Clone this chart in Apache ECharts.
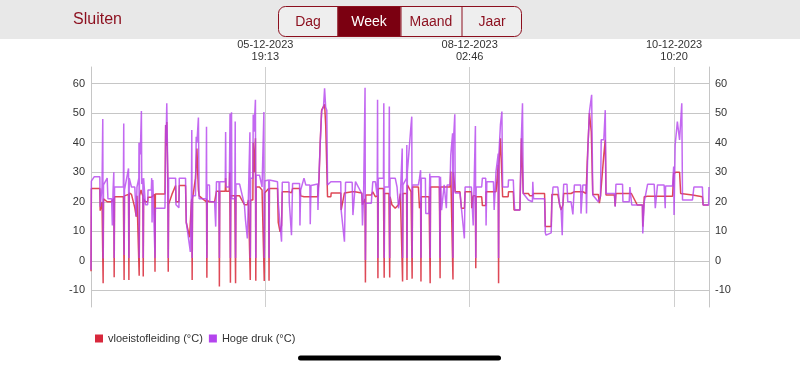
<!DOCTYPE html>
<html><head><meta charset="utf-8">
<script src="https://cdn.jsdelivr.net/npm/echarts@6/dist/echarts.min.js"></script>
<style>html,body{margin:0;padding:0;background:#fff}#c{width:800px;height:369px}</style>
</head><body><div id="c"></div>
<script>
const startTime = '2023-12-03T19:50:00';
const spanHours = 168;
const gridLineTimes = ['2023-12-05T19:13:00', '2023-12-08T02:46:00', '2023-12-10T10:20:00'];
const seriesNames = ['vloeistofleiding (°C)', 'Hoge druk (°C)'];
const segmentLabels = ['Dag', 'Week', 'Maand', 'Jaar'];
const closeLabel = 'Sluiten';

// hours since startTime
const hours = [
0,0.1,0.9,2.4,2.5,2.9,3,3.2,3.3,3.4,
4.4,4.6,5.6,5.8,6,6.2,6.3,6.4,8.8,8.9,
9,9.1,10.2,10.3,10.4,11,11.9,12.3,12.5,13,
13.05,13.1,13.2,13.4,13.6,13.7,13.8,14.1,14.2,14.3,
14.7,14.8,15.4,15.5,16.4,16.5,16.6,16.8,17.3,17.4,
17.5,20.1,20.2,20.3,20.4,20.6,20.7,20.9,21,21.1,
22,23,23.1,23.9,24,25.7,25.9,26.8,27,27.3,
27.4,27.5,27.6,28.4,28.6,28.8,29,29.2,29.4,31.3,
31.4,31.5,31.6,32.2,32.3,33.6,33.9,34.1,34.8,34.9,
35,36.5,36.6,36.7,37.6,37.7,37.8,37.9,38,38.2,
38.3,39.1,39.2,39.3,39.4,40.4,41.7,42,42.5,42.8,
43.1,43.2,43.3,43.4,44,44.1,44.3,44.7,44.8,44.9,
45.8,46.5,46.9,47,47.1,47.2,48.3,48.4,48.5,48.9,
50.7,50.9,51.4,51.8,52,53.8,53.9,54.5,54.8,56.7,
56.8,57,57.9,58.4,59.5,59.6,59.8,60.2,61.6,61.7,
62,62.3,62.7,63.2,63.5,63.8,64.1,64.3,65.2,65.3,
67.9,68,68.3,68.9,69.2,71,71.2,71.7,71.9,73.6,
73.8,74.1,74.5,74.6,74.7,76.2,76.6,77.3,77.8,77.9,
78,78.1,79.5,79.6,79.7,79.8,81,81.1,81.2,81.3,
81.8,82.7,83.2,83.6,84.1,84.6,84.7,84.8,85.8,85.85,
85.9,86,86.4,87,87.2,87.3,87.4,89,89.3,89.6,
89.7,89.8,90.9,91,91.9,92.1,92.2,92.3,94.7,94.8,
94.9,95,95.3,96,96.6,96.8,97.6,97.8,98.3,98.4,
98.5,98.9,99,100.3,100.7,101.5,101.7,103.4,103.5,103.9,
104.5,104.6,104.7,106.2,106.4,107.3,107.4,107.6,109.4,109.6,
110.1,110.7,110.8,110.9,111.3,111.7,111.9,113.4,113.5,114.8,
115,115.2,116.6,117,117.3,117.5,118.9,119.3,120,120.1,
120.3,123.3,123.5,123.7,125.1,125.3,125.6,126.9,127.4,127.8,
128.1,128.3,128.5,129.4,129.6,130.5,131,131.4,133.1,133.2,
133.7,134.6,134.7,134.9,135.1,135.5,136,136.1,136.4,137.9,
138.2,138.5,138.7,139.4,139.8,140,142.3,142.5,142.7,144.5,
144.6,146.3,146.5,146.9,147,148.5,149.9,150,150.2,150.4,
151.3,153.1,153.4,154,155.8,156.1,156.2,158.1,158.4,158.5,
158.8,159,159.4,160,160.3,160.6,160.8,163.5,163.9,166.2,
166.4,167.9,168
];

const vloeistofleiding = [
-3.5,24.5,24.5,24.5,17,17.5,20,20,-7.6,21,
20,19.5,20,20,20.5,21,-5.5,21.7,21.7,22,
-6.5,22,22.5,-6.5,23,22.5,18,15,22,22,
22,-5,22,22,24,24,23,22,-5.3,21,
21,20,20,21.5,21.5,21,21,21,22.5,-3.7,
22.6,22.6,22.6,46,39,47,47,25,-3.7,19.2,
22.5,25.5,20,20,25.5,25.5,13,8,13,20,
21,-6.5,21,28,28,38,30,24,22,20,
21,-5.7,20.5,20,20,20,20,23.6,23.6,-8.7,
23.6,23.6,28,23.6,23.6,30,30,-7.4,22,22,
22,22,22,-7.6,22,22,19,19,19,20.6,
20.6,20.6,-6.5,20.6,20.6,40,30,41.5,-6.7,25,
25,24,24,24,-6.8,23,24.5,-6.7,24.5,24.5,
24.5,13,9.8,12,23.4,23.4,23.4,23,24.5,24.5,
24.5,22,21.7,21.7,21.7,21.7,21.7,21.7,21.7,21.7,
28,39.8,51,51,53,46,46,21.7,21.7,23,
23,17.2,17.2,23,23.4,23.4,23.4,23.4,23.4,23,
19,20,21,-7.3,22.3,22.3,23.4,21.7,21.7,22,
-5.9,24.5,24.5,24,-5.7,22.8,22.8,22.8,-5.6,21.7,
19,17.8,17.8,19,22.8,22.8,-7,22.8,22.8,22.8,
-6.5,25.7,25.7,23.4,23.4,-6,25,25,17.8,20,
-7,21.7,21.7,21.7,21.7,21.7,-7.6,25,25,25,
-5.9,25,25,25,25,25,25,30.2,30.2,-6.3,
30,30,23.4,23.4,17.8,17.8,23.4,23.4,17.8,22,
22,-2.5,21.7,21.7,18.7,18.7,23.4,23.4,23.4,23.4,
23.4,32.4,-7.6,32.4,41.5,41.5,21.7,21.7,23.4,23.4,
17.2,17.2,17.2,41.5,41.5,22.8,22.8,22,22,22,
22.8,22.8,11.6,11.6,11.6,22.5,22.5,22.5,19,17.2,
17.2,19,22.8,22.8,22.8,22.8,23.4,23.4,23.4,23.4,
23.4,22.8,22.8,33.6,39.2,50,43.7,43.7,22.5,22.5,
19.5,22,22,35.8,41,22.3,22.3,18.5,22.8,22.8,
22.8,22.8,22.8,22.8,22.8,18.9,18.9,11.6,11.6,21.7,
21.9,21.9,21.9,21.9,21.9,21.9,21.9,21.9,29.6,29.6,
30,30,30,30,22.8,22.8,22.3,22.3,21.7,21.7,
18.9,18.9,18.9
];

const hogeDruk = [
-3,27,28.5,28.5,18.3,18.3,25,48,0.8,25.7,
28,21,21,12,24,30,1,25,25,46.5,
2,24,31.3,1,28,25,25,15,25,28,
40,1,40,36,36,50.7,26,28,1,28,
28,19,19,24,24,28,13,27.4,27,1,
17.8,17.8,25,46,40,53.3,53.3,28,1,28,
28,28,19,18,28,28,13,5,3,22,
44.3,1,22,22,42,40,40,48.5,21,21,
45.4,1,25.7,25.7,20,20,11.6,26.8,26.8,1,
26.8,26.8,43.6,25,25,25,49.8,1,25,50.3,
21,21,47.2,1,26,26,19,13.8,7.6,22,
22,43.5,1,28,28,49.5,43.7,54.5,1,29,
29,25,25,50.4,1,27,27.4,1,27.4,26.8,
26.8,20,12,6.5,26.6,26.6,20,8.7,26.2,26.2,
12,24,28,25.7,25.7,12.4,25.5,26,26,17.2,
30,39.2,50.7,52,58.4,52,51,25.7,26.8,26.8,
26.8,17.2,17.2,6.5,26.6,26.6,15.5,15.5,26.8,22.8,
12,22,58.6,0.3,19.5,19.5,26.8,26.8,22,54.5,
1,28,28,53.3,1,25,25,52.2,1,28,
28,28,25,17.8,22,38,1,25.7,28,39.2,
1,30,36.3,46,48.8,1,25.7,25.7,28,30.7,
1,28,28,16,16,29.6,1,28.5,28.5,16.6,
1,28.5,17.2,25.7,17.8,25.7,25.7,35.8,43.2,1,
40,49.6,23,23,17.8,7.6,25,25,22,12,
45.6,1,25,25,28,28,12,26.8,26.8,17.2,
30.2,36.3,1,36.3,46,50.5,25,25,27.4,27.4,
20.6,17.2,17.2,42,53.3,22.8,20.6,20,20,26.8,
21,21,9.5,8.7,9.5,20,25,25,19,17.2,
8.7,20,25.9,25.9,20,20,15.7,25.7,25.7,16,
25.7,25.7,16,30,38.6,50.5,50.5,56.2,22.3,20,
20,22,41,41,51,22.8,22.8,18.3,25.9,25.9,
20,20,25,25,18.9,18.9,18.9,9.3,9.3,20,
25.9,25.9,17.8,25.7,25.7,17.8,25.3,25.3,31.9,15.5,
39.2,39.2,47.1,40.9,40.9,53.3,20.6,20.6,25,25,
18.9,18.9,25
];

const startMs = new Date(startTime).getTime();
const endMs = startMs + spanHours * 3600000;
const tickMs = gridLineTimes.map(t => new Date(t).getTime());
const toTime = h => startMs + h * 3600000;
const redData = hours.map((h, i) => [toTime(h), vloeistofleiding[i]]);
const purpleData = hours.map((h, i) => [toTime(h), hogeDruk[i]]);

const FONT = 'Helvetica, Arial, "Liberation Sans", sans-serif';
const DARKRED = '#8c0f1e';
const gridColor = '#c6c6c6';

const chart = echarts.init(document.getElementById('c'), null, {renderer: 'canvas'});

const yAxisBase = {
  type: 'value', min: -15.6, max: 65.6, minInterval: 10, maxInterval: 10,
  axisLine: {show: true, lineStyle: {color: gridColor, width: 1}},
  axisTick: {show: false},
  axisLabel: {showMinLabel: false, showMaxLabel: false, color: '#333', fontSize: 11, fontFamily: FONT, margin: 6}
};

const segW = [59, 63, 61, 61];
const segX0 = 278.5;
const graphics = [
  {type: 'rect', silent: true, shape: {x: 0, y: 0, width: 800, height: 39}, style: {fill: '#e8e8e8'}},
  {type: 'text', x: 73, y: 20, style: {text: closeLabel, fill: DARKRED, font: '16px ' + FONT, textVerticalAlign: 'middle', verticalAlign: 'middle'}},
  {type: 'rect', shape: {x: segX0, y: 6.5, width: 243, height: 30, r: 7}, style: {fill: '#eeeeee', stroke: DARKRED, lineWidth: 1}}
];
let sx = segX0;
segmentLabels.forEach((lab, i) => {
  const w = segW[i];
  if (i === 1) graphics.push({type: 'rect', shape: {x: sx, y: 7, width: w, height: 29}, style: {fill: '#7b0011'}});
  if (i > 0) graphics.push({type: 'line', shape: {x1: sx + 0.5, y1: 7, x2: sx + 0.5, y2: 36}, style: {stroke: DARKRED, lineWidth: 1}});
  graphics.push({type: 'text', x: sx + w / 2, y: 22, style: {text: lab, fill: i === 1 ? '#ffffff' : DARKRED, font: '14px ' + FONT, textAlign: 'center', align: 'center', textVerticalAlign: 'middle', verticalAlign: 'middle'}});
  sx += w;
});
graphics.push({type: 'rect', shape: {x: 298, y: 355.5, width: 203, height: 5, r: 2.5}, style: {fill: '#000'}});

chart.setOption({
  animation: false,
  backgroundColor: '#ffffff',
  textStyle: {fontFamily: FONT},
  grid: {left: 91, right: 91, top: 67, bottom: 62, containLabel: false},
  legend: {
    data: seriesNames, left: 90, top: 328, icon: 'rect', itemWidth: 8, itemHeight: 8, itemGap: 6,
    textStyle: {color: '#333', fontSize: 11, fontFamily: FONT}
  },
  xAxis: {
    type: 'time', position: 'top', min: startMs, max: endMs,
    axisLine: {show: true, lineStyle: {color: gridColor, width: 1}},
    axisTick: {show: false, customValues: tickMs},
    axisLabel: {customValues: tickMs, formatter: '{dd}-{MM}-{yyyy}\n{HH}:{mm}', color: '#333', fontSize: 11, lineHeight: 12, fontFamily: FONT, margin: 4},
    splitLine: {show: true, lineStyle: {color: '#cfcfcf', width: 1}}
  },
  yAxis: [
    Object.assign({}, yAxisBase, {position: 'left', splitLine: {show: true, showMinLine: false, showMaxLine: false, lineStyle: {color: gridColor, width: 1}}}),
    Object.assign({}, yAxisBase, {position: 'right', splitLine: {show: false}})
  ],
  series: [
    {name: seriesNames[0], type: 'line', data: redData, showSymbol: false, symbol: 'none', color: '#d8283c',
     lineStyle: {width: 1.5, color: 'rgba(216,40,56,0.85)'}, z: 2},
    {name: seriesNames[1], type: 'line', data: purpleData, showSymbol: false, symbol: 'none', color: '#b444ee',
     lineStyle: {width: 1.5, color: 'rgba(180,68,238,0.8)'}, z: 3}
  ],
  graphic: graphics
});
</script>
</body></html>
